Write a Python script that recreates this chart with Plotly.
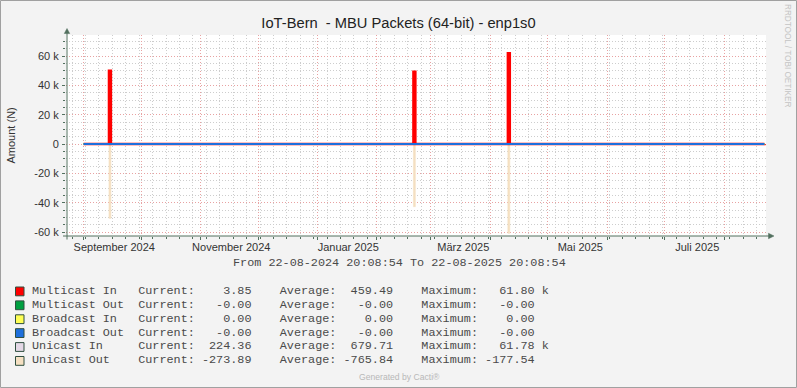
import plotly.graph_objects as go

# ---------------- data ----------------
sample_dates = ["2024-09-01 00:00", "2024-09-14 06:00", "2024-09-15 06:00",
                "2025-02-20 00:00", "2025-02-21 00:00",
                "2025-04-10 06:00", "2025-04-11 06:00", "2025-08-22 00:00"]
multicast_in = [0, 50000, 0, 49300, 0, 61800, 0, 3.85]
multicast_out = [0, 0, 0, 0, 0, 0, 0, 0]
broadcast_in = [0, 0, 0, 0, 0, 0, 0, 0]
broadcast_out = [0, 0, 0, 0, 0, 0, 0, 0]
unicast_in = [0, 50000, 0, 49300, 0, 61780, 0, 224.36]
unicast_out = [0, -50700, 0, -42700, 0, -60900, 0, -273.89]

series_names = ["Multicast In", "Multicast Out", "Broadcast In", "Broadcast Out", "Unicast In", "Unicast Out"]
series_colors = ["#FF0000", "#00A040", "#FFFF55", "#1E6FDC", "#E4D8E6", "#F5E0C2"]
current_text = ["3.85", "-0.00", "0.00", "-0.00", "224.36", "-273.89"]
average_text = ["459.49", "-0.00", "0.00", "-0.00", "679.71", "-765.84"]
maximum_text = ["61.80", "-0.00", "0.00", "-0.00", "61.78", "-177.54"]
maximum_unit = ["k", "", "", "", "k", ""]

month_starts = ["2024-09-01", "2024-10-01", "2024-11-01", "2024-12-01", "2025-01-01", "2025-02-01",
                "2025-03-01", "2025-04-01", "2025-05-01", "2025-06-01", "2025-07-01", "2025-08-01"]
label_dates = ["2024-09-17", "2024-11-17", "2025-01-17", "2025-03-18", "2025-05-18", "2025-07-18"]
label_text = ["September 2024", "November 2024", "Januar 2025", "März 2025", "Mai 2025", "Juli 2025"]
y_ticks = [-60000, -40000, -20000, 0, 20000, 40000, 60000]
y_labels = ["-60 k", "-40 k", "-20 k", "0", "20 k", "40 k", "60 k"]

x_start = "2024-08-22 20:08:54"
x_end = "2025-08-22 20:08:54"
title_text = "IoT-Bern\u00a0 - MBU Packets (64-bit) - enp1s0"
period_text = "From 22-08-2024 20:08:54 To 22-08-2025 20:08:54"

# ---------------- layout geometry ----------------
W, H = 797, 388
L, R, T, B = 66, 31, 35, 152
PW, PH = W - L - R, H - T - B
def px(x):
    return (x - L) / PW
def py(y):
    return (H - B - y) / PH

AXIS = "#52705F"
RED_GRID = "#E8A2A2"
GRAY_GRID = "#CDCDCD"
TXT = "#333333"
SANS = "Liberation Sans"
MONO = "Liberation Mono"

fig = go.Figure()

# areas first
fig.add_trace(go.Scatter(x=sample_dates, y=unicast_in, mode="lines", fill="tozeroy", line_shape="hv",
                         line=dict(color=series_colors[4], width=0), fillcolor=series_colors[4],
                         hoverinfo="skip", showlegend=False))
fig.add_trace(go.Scatter(x=sample_dates, y=unicast_out, mode="lines", fill="tozeroy", line_shape="hv",
                         line=dict(color=series_colors[5], width=0.6), fillcolor=series_colors[5],
                         hoverinfo="skip", showlegend=False))
# lines
for vals, col, wd in [(multicast_in, series_colors[0], 2.5), (multicast_out, series_colors[1], 2),
                      (broadcast_in, series_colors[2], 2), (broadcast_out, series_colors[3], 2)]:
    fig.add_trace(go.Scatter(x=sample_dates, y=vals, mode="lines", line_shape="hv",
                             line=dict(color=col, width=wd), hoverinfo="skip", showlegend=False))

# helper for the monthly major grid axis
fig.add_trace(go.Scatter(x=month_starts, y=[0] * len(month_starts), xaxis="x2", mode="markers",
                         marker=dict(opacity=0), hoverinfo="skip", showlegend=False))

fig.update_layout(
    width=W, height=H,
    margin=dict(l=L, r=R, t=T, b=B, pad=0),
    paper_bgcolor="#F3F3F3", plot_bgcolor="#FFFFFF",
    showlegend=False,
    title=dict(text=title_text, x=0.5, xref="container", xanchor="center",
               y=1 - 23 / H, yref="container", yanchor="middle",
               font=dict(family=SANS, size=14.7, color="#222222")),
    xaxis=dict(type="date", range=[x_start, x_end], tickmode="array", tickvals=label_dates,
               ticktext=label_text, showgrid=False, zeroline=False, showline=False, ticks="",
               ticklabelstandoff=3,
               tickfont=dict(family=SANS, size=11, color=TXT),
               minor=dict(tick0="2024-08-26", dtick=7 * 86400000, showgrid=True,
                          gridcolor=GRAY_GRID, griddash="1px,2px", gridwidth=1,
                          ticks="outside", ticklen=2, tickcolor=AXIS)),
    xaxis2=dict(type="date", range=[x_start, x_end], overlaying="x", anchor="y", side="bottom",
                tickmode="array", tickvals=month_starts, showticklabels=False,
                showgrid=True, gridcolor=RED_GRID, griddash="1px,2px", gridwidth=1,
                zeroline=False, showline=False, ticks="outside", ticklen=3, tickcolor=AXIS),
    yaxis=dict(range=[-62727, 74318], tickmode="array", tickvals=y_ticks, ticktext=y_labels,
               showgrid=True, gridcolor=RED_GRID, griddash="1px,2px", gridwidth=1,
               zeroline=False, showline=False, ticks="outside", ticklen=3, tickcolor=AXIS,
               ticklabelstandoff=1,
               tickfont=dict(family=SANS, size=11, color=TXT),
               minor=dict(tick0=0, dtick=5000, showgrid=True, gridcolor=GRAY_GRID,
                          griddash="1px,2px", gridwidth=1, ticks="outside", ticklen=2,
                          tickcolor=AXIS)),
)

shapes = []
# outer frame
shapes.append(dict(type="rect", xref="paper", yref="paper", x0=px(0.5), x1=px(W - 0.5),
                   y0=py(H - 0.5), y1=py(0.5), line=dict(color="#A0A0A0", width=1),
                   fillcolor="rgba(0,0,0,0)", layer="above"))
# axes with arrows
shapes.append(dict(type="line", xref="paper", yref="paper", x0=px(67), x1=px(67), y0=py(239.5), y1=py(31),
                   line=dict(color=AXIS, width=1)))
shapes.append(dict(type="line", xref="paper", yref="paper", x0=px(63), x1=px(770), y0=py(236), y1=py(236),
                   line=dict(color=AXIS, width=1)))
def tri(pts):
    return "M " + " L ".join(f"{px(a)},{py(b)}" for a, b in pts) + " Z"
shapes.append(dict(type="path", xref="paper", yref="paper",
                   path=tri([(64.3, 33.5), (69.7, 33.5), (67, 28.5)]),
                   fillcolor=AXIS, line=dict(color=AXIS, width=0.5)))
shapes.append(dict(type="path", xref="paper", yref="paper",
                   path=tri([(768.5, 233.3), (768.5, 238.7), (774, 236)]),
                   fillcolor=AXIS, line=dict(color=AXIS, width=0.5)))

annotations = []
# y-axis title
annotations.append(dict(text="Amount (N)", xref="paper", yref="paper", x=px(10), y=py(135.5),
                        xanchor="center", yanchor="middle", textangle=-90, showarrow=False,
                        font=dict(family=SANS, size=11, color=TXT)))
# period line
annotations.append(dict(text=period_text.replace(" ", "\u00a0"), xref="paper", yref="paper",
                        x=px(399), y=py(263), xanchor="center", yanchor="middle", showarrow=False,
                        font=dict(family=MONO, size=11.8, color="#4A4A4A")))
# legend rows
for i, name in enumerate(series_names):
    yc = 290.8 + i * 13.9
    row = f"{name:<15}Current:{current_text[i]:>8}    Average:{average_text[i]:>8}    Maximum:{maximum_text[i]:>8}"
    if maximum_unit[i]:
        row += " " + maximum_unit[i]
    annotations.append(dict(text=row.replace(" ", "\u00a0"), xref="paper", yref="paper",
                            x=px(30), y=py(yc), xanchor="left", yanchor="middle", showarrow=False,
                            font=dict(family=MONO, size=11.8, color="#4A4A4A")))
    shapes.append(dict(type="rect", xref="paper", yref="paper", x0=px(15.5), x1=px(24),
                       y0=py(yc + 5), y1=py(yc - 3.8), fillcolor=series_colors[i],
                       line=dict(color="#2F4F3F", width=1)))
# watermark texts
annotations.append(dict(text="RRDTOOL / TOBI OETIKER", xref="paper", yref="paper", x=px(787), y=py(56),
                        xanchor="center", yanchor="middle", textangle=90, showarrow=False,
                        font=dict(family=SANS, size=8.2, color="#C4C4C4")))
annotations.append(dict(text="Generated by Cacti®", xref="paper", yref="paper", x=px(399.5), y=py(377),
                        xanchor="center", yanchor="middle", showarrow=False,
                        font=dict(family=SANS, size=8.6, color="#B8B8B8")))

fig.update_layout(shapes=shapes, annotations=annotations)
fig.write_html("out.html", config={"displayModeBar": False},
               post_script="document.body.style.margin='0';")
